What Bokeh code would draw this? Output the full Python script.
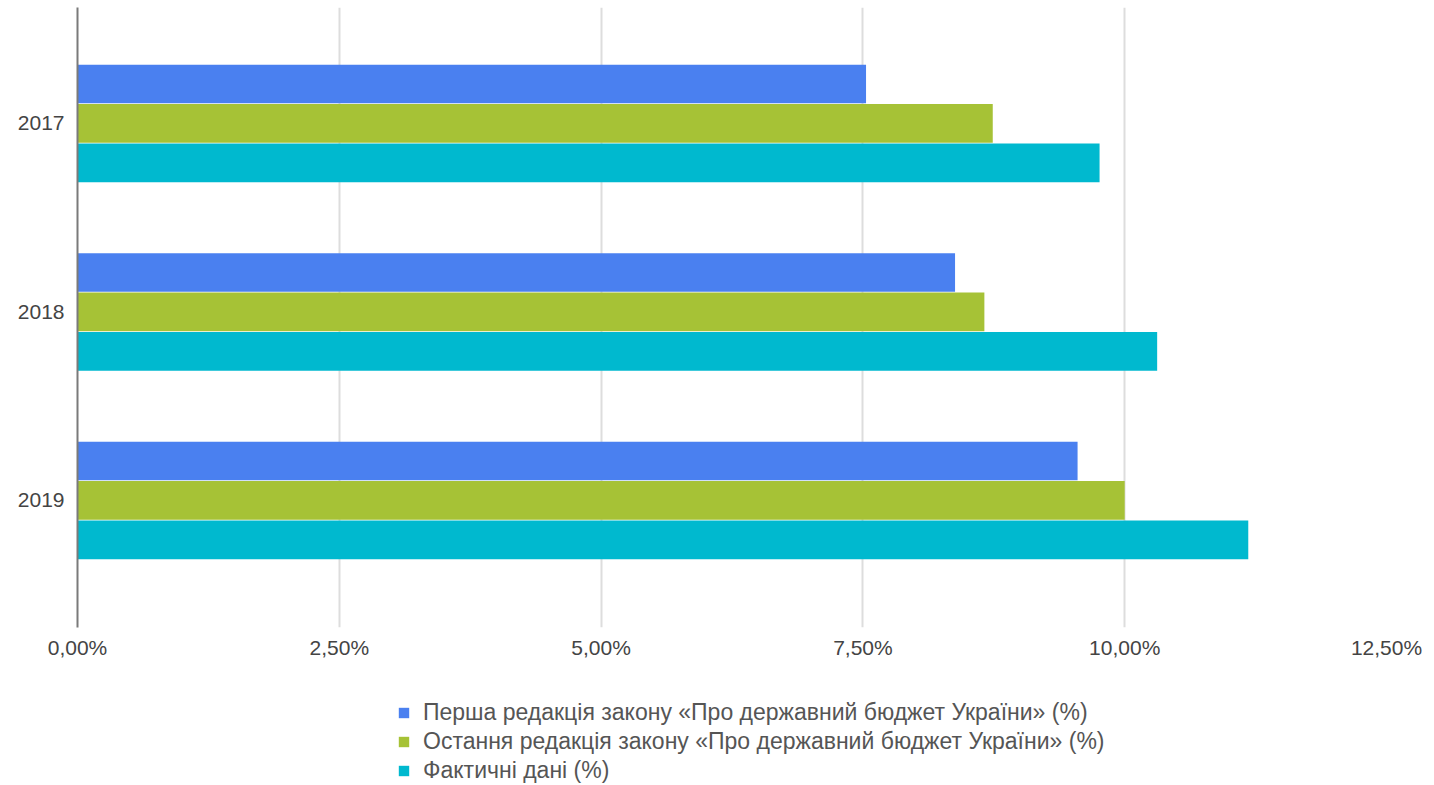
from bokeh.plotting import figure
from bokeh.layouts import column
from bokeh.models import ColumnDataSource, Range1d, FixedTicker, Legend, LegendItem
from bokeh.transform import dodge
from bokeh.embed import file_html
from bokeh.resources import INLINE

years = ["2017", "2018", "2019"]
first_edition = [7.53, 8.38, 9.55]
last_edition = [8.74, 8.66, 10.00]
actual = [9.76, 10.31, 11.18]
x_ticks = [0, 2.5, 5, 7.5, 10, 12.5]
x_tick_labels = ["0,00%", "2,50%", "5,00%", "7,50%", "10,00%", "12,50%"]
series_names = [
    "Перша редакція закону «Про державний бюджет України» (%)",
    "Остання редакція закону «Про державний бюджет України» (%)",
    "Фактичні дані (%)",
]
colors = ["#4a80f0", "#a6c236", "#00b9cf"]
fields = ["first", "last", "actual"]
offsets = [-0.209, 0.0, 0.209]

FONT = "Liberation Sans"
pos = list(range(len(years)))
src = ColumnDataSource(dict(y=pos, first=first_edition, last=last_edition, actual=actual))

# ---- main chart ----
p = figure(width=1434, height=670, output_backend="svg", toolbar_location=None,
           x_range=Range1d(0, 12.5), y_range=Range1d(2.674, -0.615),
           min_border_left=77, min_border_right=48, min_border_top=7, min_border_bottom=43)
p.outline_line_color = None
p.background_fill_color = "white"
p.border_fill_color = "white"

for field, off, col in zip(fields, offsets, colors):
    p.hbar(y=dodge("y", off, range=p.y_range), left=0, right=field, height=0.205,
           source=src, fill_color=col, line_color=None)

xa = p.xaxis[0]
xa.ticker = FixedTicker(ticks=x_ticks)
xa.major_label_overrides = {t: l for t, l in zip(x_ticks, x_tick_labels)}
xa.axis_line_color = None
xa.major_tick_line_color = None
xa.minor_tick_line_color = None
xa.major_label_standoff = 2
xa.major_label_text_font = FONT
xa.major_label_text_font_size = "21px"
xa.major_label_text_color = "#444444"

ya = p.yaxis[0]
ya.ticker = FixedTicker(ticks=pos)
ya.major_label_overrides = {i: y for i, y in zip(pos, years)}
ya.axis_line_color = "#7a7a7a"
ya.axis_line_width = 2
ya.major_tick_line_color = None
ya.minor_tick_line_color = None
ya.major_label_standoff = 7
ya.major_label_text_font = FONT
ya.major_label_text_font_size = "21px"
ya.major_label_text_color = "#444444"

p.xgrid.ticker = FixedTicker(ticks=x_ticks)
p.xgrid.grid_line_color = "#dddddd"
p.xgrid.grid_line_width = 2
p.ygrid.grid_line_color = None

# ---- legend strip ----
lg = figure(width=1434, height=115, output_backend="svg", toolbar_location=None,
            x_axis_location=None, y_axis_location=None,
            x_range=Range1d(0, 12.5), y_range=Range1d(-1, 3), min_border=0)
lg.grid.visible = False
lg.outline_line_color = None
lg.background_fill_color = "white"
lg.border_fill_color = "white"

leg_renderers = []
for field, off, col in zip(fields, offsets, colors):
    # zero-height bars: only their swatch is shown in the legend
    r = lg.hbar(y="y", left=0, right=field, height=0, source=src,
                fill_color=col, line_color=None)
    leg_renderers.append(r)

legend = Legend(items=[LegendItem(label=n, renderers=[r]) for n, r in zip(series_names, leg_renderers)],
                location=(320, 0), orientation="vertical",
                glyph_width=13, glyph_height=13, label_standoff=13,
                label_height=29, spacing=0, padding=0, margin=0,
                label_text_font=FONT, label_text_font_size="23px", label_text_color="#555555",
                border_line_color=None, background_fill_alpha=0)
lg.add_layout(legend)

layout = column(p, lg, spacing=0)
open("out.html", "w").write(file_html(layout, INLINE))
